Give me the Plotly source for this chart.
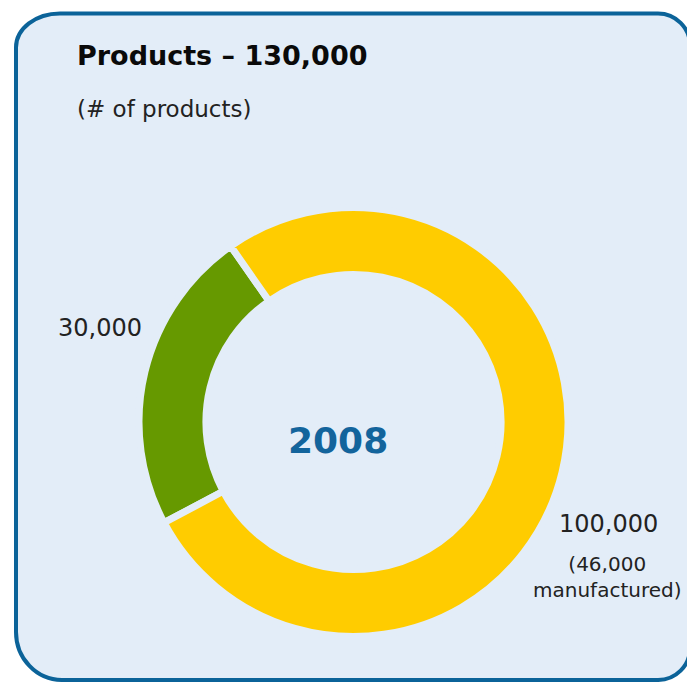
import plotly.graph_objects as go

# Chart data
categories = ["Other products", "Main products"]
values = [30000, 100000]
value_labels = ["30,000", "100,000"]
detail_label = "(46,000<br>manufactured)"
title_text = "Products – 130,000"
subtitle_text = "(# of products)"
center_text = "2008"

W, H = 687, 682
BOX_FILL = "#E3EDF8"
BOX_LINE = "#0B6399"
GREEN = "#669900"
YELLOW = "#FFCC00"
FONT = "DejaVu Sans, Verdana, sans-serif"


def px(x):
    return x / W


def py(y):
    return 1 - y / H


# Rounded panel outline (pixel geometry converted to paper coordinates)
x0, y0, x1, y1 = 16, 13.5, 690, 680
tl_rx, tl_ry = 44, 34
bl_rx, bl_ry = 46, 48
tr_r = 32
br_r = 32
k = 0.5523


def P(x, y):
    return f"{px(x):.5f},{py(y):.5f}"


path = (
    f"M {P(x0 + tl_rx, y0)} L {P(x1 - tr_r, y0)} "
    f"C {P(x1 - tr_r + k * tr_r, y0)} {P(x1, y0 + tr_r - k * tr_r)} {P(x1, y0 + tr_r)} "
    f"L {P(x1, y1 - br_r)} "
    f"C {P(x1, y1 - br_r + k * br_r)} {P(x1 - br_r + k * br_r, y1)} {P(x1 - br_r, y1)} "
    f"L {P(x0 + bl_rx, y1)} "
    f"C {P(x0 + bl_rx - k * bl_rx, y1)} {P(x0, y1 - bl_ry + k * bl_ry)} {P(x0, y1 - bl_ry)} "
    f"L {P(x0, y0 + tl_ry)} "
    f"C {P(x0, y0 + tl_ry - k * tl_ry)} {P(x0 + tl_rx - k * tl_rx, y0)} {P(x0 + tl_rx, y0)} Z"
)

# Donut geometry (pixels)
cx, cy, R = 353.5, 422, 214.5
gap = 7

fig = go.Figure(
    go.Pie(
        labels=categories,
        values=values,
        marker=dict(colors=[GREEN, YELLOW], line=dict(color=BOX_FILL, width=gap)),
        hole=0.688,
        sort=False,
        direction="clockwise",
        rotation=242,
        textinfo="none",
        hoverinfo="label+value",
        showlegend=False,
        domain=dict(x=[px(cx - R), px(cx + R)], y=[py(cy + R), py(cy - R)]),
    )
)

fig.add_shape(
    type="path", path=path, xref="paper", yref="paper",
    fillcolor=BOX_FILL, line=dict(color=BOX_LINE, width=4), layer="below",
)

annotations = [
    dict(x=px(75), y=py(55), text=f"<b>{title_text}</b>", xanchor="left",
         font=dict(size=27, color="#0A0A0A")),
    dict(x=px(75), y=py(109), text=subtitle_text, xanchor="left",
         font=dict(size=23, color="#222222")),
    dict(x=px(338), y=py(440), text=f"<b>{center_text}</b>",
         font=dict(size=36, color="#13649C")),
    dict(x=px(100), y=py(328), text=value_labels[0],
         font=dict(size=24, color="#222222")),
    dict(x=px(608), y=py(524), text=value_labels[1],
         font=dict(size=24, color="#222222")),
    dict(x=px(607), y=py(577), text=detail_label, align="center",
         font=dict(size=20, color="#222222")),
]
for a in annotations:
    a.update(xref="paper", yref="paper", showarrow=False, yanchor="middle")
    a.setdefault("xanchor", "center")

fig.update_layout(
    width=W, height=H,
    margin=dict(l=0, r=0, t=0, b=0),
    paper_bgcolor="white",
    plot_bgcolor="white",
    font=dict(family=FONT),
    annotations=annotations,
)

fig.write_html("out.html")
